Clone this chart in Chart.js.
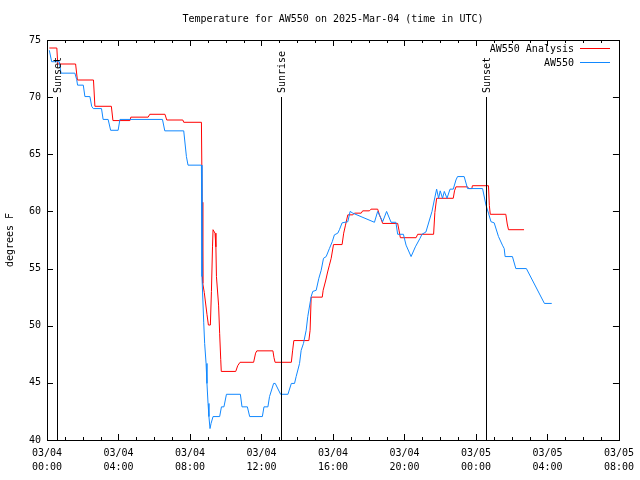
<!DOCTYPE html>
<html>
<head>
<meta charset="utf-8">
<script src="https://cdn.jsdelivr.net/npm/chart.js@4"></script>
<style>
  body { margin: 0; background: #fff; }
  #wrap { width: 640px; height: 480px; }
</style>
</head>
<body>
<div id="wrap"><canvas id="tempChart" width="640" height="480"></canvas></div>
<script>
// hours after 03/04 00:00 UTC
var analysisHours = [0.13, 0.55, 0.6, 1.6, 1.7, 2.6, 2.68, 3.6, 3.69, 4.64, 4.69, 5.66, 5.75, 6.6, 6.7, 7.6, 7.65, 8.64,
  8.68, 8.71, 8.72, 8.8, 8.95, 9.03, 9.14, 9.2, 9.26, 9.29, 9.4, 9.45, 9.48, 9.6, 9.66, 9.72, 9.75,
  10.56, 10.67, 10.8, 11.56, 11.67, 11.74, 12.64, 12.7, 12.76, 13.67, 13.74, 13.81, 14.65, 14.72, 14.78,
  15.4, 15.45, 15.6, 15.7, 15.8, 15.9, 16.03, 16.51, 16.6, 16.7, 16.83, 17.11, 17.2, 17.58, 17.66, 18.04,
  18.13, 18.5, 18.6, 18.7, 18.78, 19.62, 19.7, 19.77, 20.65, 20.74, 21.63, 21.7, 21.8, 22.73, 22.8, 22.88,
  23.53, 23.6, 23.77, 23.8, 24.7, 24.75, 24.8, 25.67, 25.75, 25.82, 26.69];
var analysisTemps = [74.3, 74.3, 72.9, 72.9, 71.5, 71.5, 69.2, 69.2, 67.95, 67.95, 68.25, 68.25, 68.5, 68.5, 68.0, 68.0, 67.8, 67.8,
  60.8, 57.4, 53.7, 52.9, 51.0, 50.06, 50.06, 53.0, 56.9, 58.4, 58.1, 56.9, 54.3, 51.8, 49.3, 47.06, 46.0,
  46.0, 46.5, 46.8, 46.8, 47.6, 47.8, 47.8, 47.2, 46.8, 46.8, 47.8, 48.7, 48.7, 49.6, 52.5,
  52.5, 53.1, 54.0, 54.7, 55.3, 55.9, 57.1, 57.1, 58.1, 58.8, 59.7, 59.7, 59.85, 59.85, 60.05, 60.05,
  60.2, 60.2, 59.7, 59.3, 58.95, 58.95, 58.3, 57.7, 57.7, 58.0, 58.0, 59.9, 61.15, 61.15, 61.8, 62.15,
  62.15, 62.0, 62.0, 62.25, 62.25, 60.5, 59.75, 59.75, 58.9, 58.4, 58.4];

var obsHours = [0.13, 0.26, 0.69, 0.78, 1.56, 1.66, 1.71, 2.03, 2.12, 2.4, 2.5, 2.59, 3.05, 3.14, 3.42, 3.56, 3.98, 4.08,
  6.46, 6.59, 7.65, 7.8, 7.89, 8.64, 8.67, 8.77, 8.82, 8.9, 8.95, 9.01, 9.06, 9.12, 9.18, 9.29, 9.66, 9.76,
  9.9, 10.04, 10.82, 10.91, 11.21, 11.34, 12.05, 12.14, 12.36, 12.45, 12.68, 12.77, 13.07, 13.48, 13.67,
  13.85, 13.94, 14.13, 14.22, 14.35, 14.5, 14.59, 14.78, 14.87, 15.06, 15.21, 15.34, 15.47, 15.62, 15.8,
  15.96, 16.08, 16.27, 16.36, 16.51, 16.83, 16.96, 17.11, 18.32, 18.5, 18.78, 19.0, 19.25, 19.52, 19.62,
  19.94, 20.09, 20.37, 20.61, 20.87, 20.98, 21.2, 21.54, 21.67, 21.8, 21.91, 22.0, 22.13, 22.23, 22.38,
  22.55, 22.73, 22.88, 22.97, 23.34, 23.53, 24.37, 24.56, 24.7, 24.84, 25.02, 25.26, 25.48, 25.58, 25.63,
  26.04, 26.23, 26.82, 27.83, 28.24];
var obsTemps = [74.1, 73.1, 73.1, 72.1, 72.1, 71.55, 71.05, 71.05, 70.05, 70.05, 69.2, 69.0, 69.0, 68.05, 68.05, 67.1, 67.1, 68.05,
  68.05, 67.05, 67.05, 64.8, 64.05, 64.05, 54.3, 50.25, 48.45, 46.7, 44.95, 43.2, 42.05, 41.0, 41.45, 42.05, 42.05, 42.9,
  42.9, 44.0, 44.0, 42.9, 42.9, 42.05, 42.05, 42.9, 42.9, 43.8, 44.95, 44.95, 44.0, 44.0, 44.95,
  44.95, 45.55, 46.7, 47.85, 48.45, 49.6, 50.8, 52.55, 53.0, 53.1, 54.15, 54.85, 55.9, 56.05, 56.75,
  57.35, 57.95, 58.1, 58.4, 59.0, 59.1, 60.0, 59.85, 59.05, 60.0, 59.1, 60.0, 59.05, 59.05, 58.0,
  58.0, 57.05, 56.05, 56.9, 57.65, 58.0, 58.2, 60.0, 61.0, 61.95, 61.15, 61.8, 61.15, 61.75, 61.15,
  61.95, 61.95, 62.75, 63.05, 63.05, 62.0, 62.0, 60.55, 59.85, 59.1, 59.0, 57.8, 57.05, 56.75, 56.05,
  56.05, 55.0, 55.0, 51.95, 51.95];

var seriesNames = ['AW550 Analysis', 'AW550'];
var seriesColors = ['#ff0000', '#1188ff'];

var sunLabels = ['Sunset', 'Sunrise', 'Sunset'];
var sunHours = [0.55, 13.07, 24.58];

var dayLabels = ['03/04', '03/04', '03/04', '03/04', '03/04', '03/04', '03/05', '03/05', '03/05'];
var timeLabels = ['00:00', '04:00', '08:00', '12:00', '16:00', '20:00', '00:00', '04:00', '08:00'];

var monoFont = "'DejaVu Sans Mono', 'Liberation Mono', monospace";

function toPoints(xs, ys) {
  var pts = [];
  for (var i = 0; i < xs.length; i++) pts.push({x: xs[i], y: ys[i]});
  return pts;
}

// frame, inward ticks, sun markers and legend
var decor = {
  id: 'decor',
  afterDatasetsDraw: function(chart) {
    var ctx = chart.ctx;
    var a = chart.chartArea;
    var xs = chart.scales.x, ys = chart.scales.y;
    ctx.save();
    ctx.strokeStyle = '#000';
    ctx.lineWidth = 1;

    // sunrise / sunset lines
    ctx.fillStyle = '#000';
    ctx.font = '10px ' + monoFont;
    for (var i = 0; i < sunHours.length; i++) {
      var px = Math.round(xs.getPixelForValue(sunHours[i])) + 0.5;
      ctx.beginPath();
      ctx.moveTo(px, 97);
      ctx.lineTo(px, a.bottom);
      ctx.stroke();
      ctx.save();
      ctx.translate(px + 1, 93);
      ctx.rotate(-Math.PI / 2);
      ctx.textAlign = 'left';
      ctx.textBaseline = 'middle';
      ctx.fillText(sunLabels[i], 0, 0);
      ctx.restore();
    }

    // box
    ctx.strokeRect(Math.round(a.left) + 0.5, Math.round(a.top) + 0.5,
      Math.round(a.right - a.left), Math.round(a.bottom - a.top));

    // x ticks every hour, longer every 4 hours
    ctx.beginPath();
    for (var h = 0; h <= 32; h++) {
      var tx = Math.round(xs.getPixelForValue(h)) + 0.5;
      var len = (h % 4 === 0) ? 6 : 3;
      ctx.moveTo(tx, a.bottom);
      ctx.lineTo(tx, a.bottom - len);
      ctx.moveTo(tx, a.top);
      ctx.lineTo(tx, a.top + len);
    }
    // y ticks both sides
    ys.ticks.forEach(function(t) {
      var ty = Math.round(ys.getPixelForValue(t.value)) + 0.5;
      ctx.moveTo(a.left, ty);
      ctx.lineTo(a.left + 6, ty);
      ctx.moveTo(a.right, ty);
      ctx.lineTo(a.right - 6, ty);
    });
    ctx.stroke();

    // legend, top right inside the plot
    ctx.textAlign = 'right';
    ctx.textBaseline = 'middle';
    chart.data.datasets.forEach(function(ds, k) {
      var ly = 49 + k * 14;
      ctx.fillStyle = '#000';
      ctx.fillText(ds.label, 574, ly);
      ctx.strokeStyle = ds.borderColor;
      ctx.beginPath();
      ctx.moveTo(580, ly - 0.5);
      ctx.lineTo(610, ly - 0.5);
      ctx.stroke();
    });
    ctx.restore();
  }
};

new Chart(document.getElementById('tempChart'), {
  type: 'line',
  data: {
    datasets: [{
      label: seriesNames[0],
      data: toPoints(analysisHours, analysisTemps),
      borderColor: seriesColors[0],
      borderWidth: 1,
      pointRadius: 0,
      tension: 0,
      order: 1
    }, {
      label: seriesNames[1],
      data: toPoints(obsHours, obsTemps),
      borderColor: seriesColors[1],
      borderWidth: 1,
      pointRadius: 0,
      tension: 0,
      order: 0
    }]
  },
  options: {
    responsive: false,
    animation: false,
    devicePixelRatio: 1,
    layout: { padding: { left: 0, right: 20, top: 0, bottom: 0 } },
    plugins: {
      legend: { display: false },
      tooltip: { enabled: false },
      title: {
        display: true,
        text: 'Temperature for AW550 on 2025-Mar-04 (time in UTC)',
        color: '#000',
        fullSize: false,
        font: { family: monoFont, size: 10, weight: 'normal', lineHeight: 1.2 },
        padding: { top: 13, bottom: 15 }
      }
    },
    scales: {
      x: {
        type: 'linear',
        min: 0,
        max: 32,
        afterFit: function(s) { s.height = 40; },
        grid: { display: false, drawTicks: false },
        border: { display: false },
        ticks: {
          stepSize: 4,
          maxRotation: 0,
          autoSkip: false,
          padding: 6,
          color: '#000',
          font: { family: monoFont, size: 10, lineHeight: 1.4 },
          callback: function(v) {
            var i = Math.round(v / 4);
            return [dayLabels[i], timeLabels[i]];
          }
        }
      },
      y: {
        min: 40,
        max: 75,
        afterFit: function(s) { s.width = 47; },
        grid: { display: false, drawTicks: false },
        border: { display: false },
        title: {
          display: true,
          text: 'degrees F',
          color: '#000',
          font: { family: monoFont, size: 10, lineHeight: 1.2 },
          padding: { top: 4, bottom: 0 }
        },
        ticks: {
          stepSize: 5,
          padding: 6,
          color: '#000',
          font: { family: monoFont, size: 10 }
        }
      }
    }
  },
  plugins: [decor]
});
</script>
</body>
</html>
